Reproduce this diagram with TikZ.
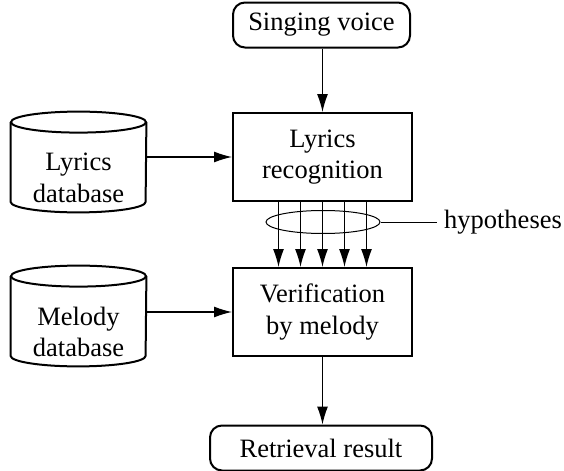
\documentclass[tikz,border=0pt]{standalone}
\usepackage{fontspec}
\setmainfont{Liberation Serif}
\usetikzlibrary{arrows.meta,shapes.geometric}

\tikzset{
  txt/.style={font=\fontsize{13.25pt}{15.75pt}\selectfont, align=center},
  procbox/.style={txt, draw, line width=1pt, inner sep=0pt,
    minimum width=89.5pt, minimum height=44pt},
  termbox/.style={txt, draw, line width=1pt, rounded corners=6pt, inner sep=0pt,
    minimum height=22.5pt},
  dbarea/.style={inner sep=0pt, minimum width=67.5pt, minimum height=50pt},
  cylline/.style={line width=1pt},
  arr/.style={line width=0.6pt, -{Latex[length=9pt,width=5.5pt]}},
  thin line/.style={line width=0.5pt}
}

% database cylinder drawn around an empty node of the right size
\newcommand\dbcylinder[1]{%
  \draw[cylline] ([yshift=-5.25pt]#1.north) ellipse [x radius=33.75pt, y radius=5.25pt];
  \draw[cylline] ([yshift=-5.25pt]#1.north west) -- ([yshift=5.25pt]#1.south west)
    arc[start angle=180, end angle=360, x radius=33.75pt, y radius=5.25pt]
    -- ([yshift=-5.25pt]#1.north east);
}

\begin{document}
\begin{tikzpicture}[x=0.5pt, y=-0.5pt]
  \useasboundingbox (0,0) rectangle (564,471);

  % main chain
  \node[termbox, minimum width=88.5pt] (sv) at (321.5,25) {Singing voice};
  \node[procbox] (lr) at (322.5,157) {Lyrics\\recognition};
  \node[procbox] (vm) at (322.5,312) {Verification\\by melody};
  \node[termbox, minimum width=111pt] (rr) at (321,448) {Retrieval result};

  % databases
  \node[dbarea] (ldb) at (78.5,162) {};
  \dbcylinder{ldb}
  \node[txt] (ldbtext) at ([yshift=-8pt]ldb.center) {Lyrics\\database};

  \node[dbarea] (mdb) at (78.5,316) {};
  \dbcylinder{mdb}
  \node[txt] (mdbtext) at ([yshift=-8pt]mdb.center) {Melody\\database};

  % connectors
  \draw[arr] (sv.south -| lr.north) -- (lr.north);
  \draw[arr] (lr.west -| ldb.east) -- (lr.west);
  \draw[arr] (vm.west -| mdb.east) -- (vm.west);
  \draw[arr] (vm.south) -- (vm.south |- rr.north);

  % hypotheses passed from recognition to verification
  \foreach \dx in {-44,-22,0,22,44}
    \draw[arr] ([xshift=\dx*0.5pt]lr.south) -- ([xshift=\dx*0.5pt]vm.north);

  \node[ellipse, draw, thin line, inner sep=0pt,
        minimum width=57pt, minimum height=11.5pt] (hyp) at (323,222) {};
  \node[txt] (hyplabel) at (503,222) {hypotheses};
  \draw[thin line] (hyp.east) -- (hyplabel.west);
\end{tikzpicture}
\end{document}
